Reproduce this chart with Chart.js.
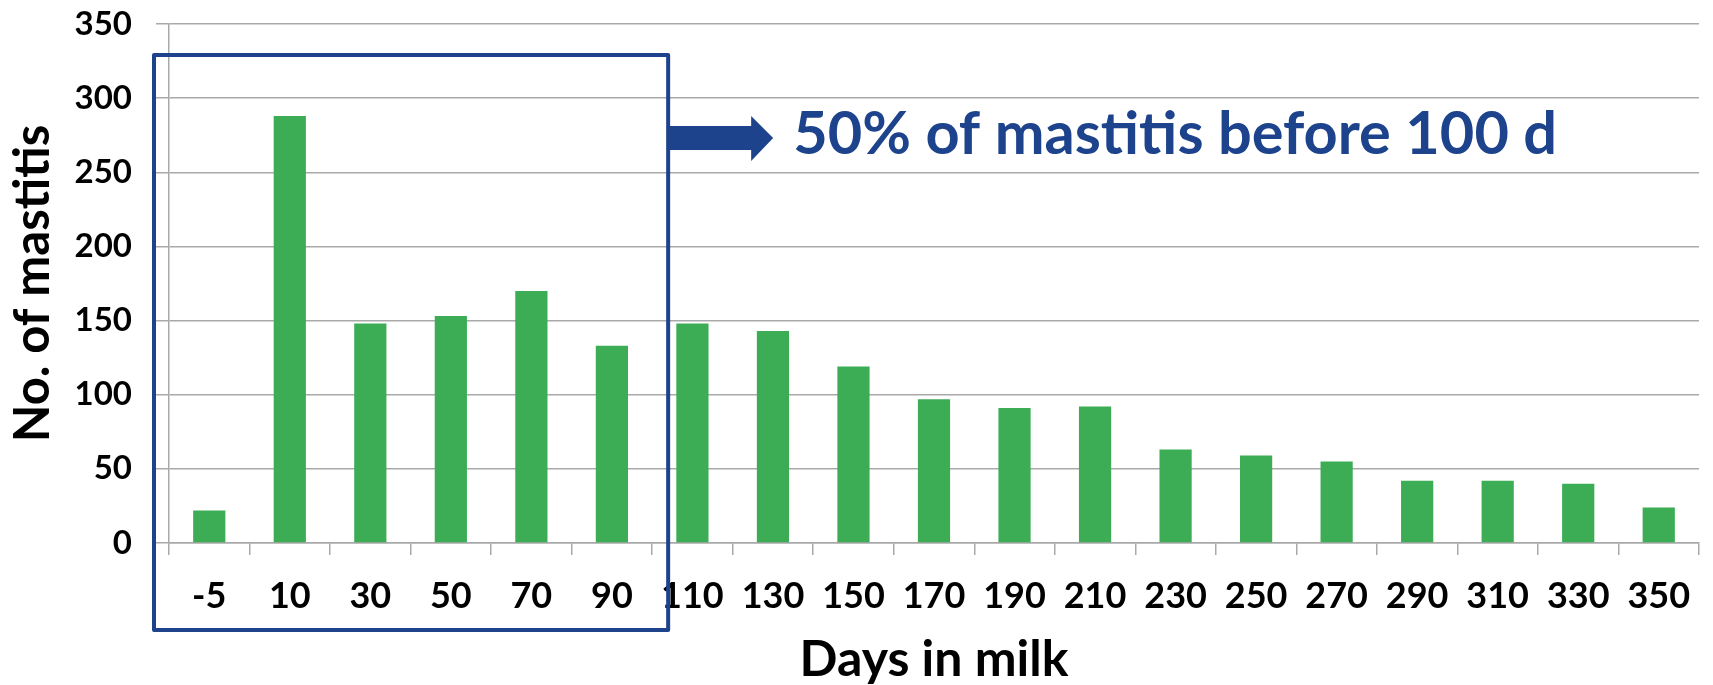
<!DOCTYPE html>
<html>
<head>
<meta charset="utf-8">
<title>Days in milk</title>
<script src="https://cdn.jsdelivr.net/npm/chart.js@4/dist/chart.umd.min.js"></script>
<style>
  body { margin: 0; background: #fff; }
  #myChart { display: block; }
</style>
</head>
<body>
<canvas id="myChart" width="1713" height="685"></canvas>
<script>
// days in milk (class midpoints) and mastitis counts
var days = ['-5', '10', '30', '50', '70', '90', '110', '130', '150', '170',
            '190', '210', '230', '250', '270', '290', '310', '330', '350'];
var mastitis = [22, 288, 148, 153, 170, 133, 148, 143, 119, 97,
                91, 92, 63, 59, 55, 42, 42, 40, 24];
var yTicks = [0, 50, 100, 150, 200, 250, 300, 350];
var note = '50% of mastitis before 100 d';

var gridGrey = '#a9a9a9';
var navy = '#1c438b';

// the framed first 100 days, the arrow and the note
var notePlugin = {
  id: 'note',
  afterDraw: function (chart) {
    var ctx = chart.ctx;
    var area = chart.chartArea;
    var x = chart.scales.x;
    var split = (x.getPixelForValue(5) + x.getPixelForValue(6)) / 2;

    var left = area.left - 15;
    var right = split + 16;
    var top = area.top + 31;
    var bottom = 630;

    ctx.save();
    ctx.strokeStyle = navy;
    ctx.lineWidth = 4;
    ctx.lineJoin = 'round';
    ctx.strokeRect(left, top, right - left, bottom - top);

    // arrow
    var ay = 138;
    ctx.fillStyle = navy;
    ctx.beginPath();
    ctx.moveTo(right, ay - 12);
    ctx.lineTo(right + 83, ay - 12);
    ctx.lineTo(right + 83, ay - 22);
    ctx.lineTo(right + 105, ay);
    ctx.lineTo(right + 83, ay + 23);
    ctx.lineTo(right + 83, ay + 12);
    ctx.lineTo(right, ay + 12);
    ctx.closePath();
    ctx.fill();

    ctx.font = 'bold 59.5px Lato';
    ctx.textAlign = 'left';
    ctx.textBaseline = 'alphabetic';
    ctx.fillText(note, right + 125, 154);
    ctx.restore();
  }
};

new Chart(document.getElementById('myChart'), {
  type: 'bar',
  data: {
    labels: days,
    datasets: [{
      label: 'No. of mastitis',
      data: mastitis,
      backgroundColor: '#3cad55',
      borderWidth: 0,
      barPercentage: 0.4,
      categoryPercentage: 1
    }]
  },
  options: {
    responsive: false,
    animation: false,
    devicePixelRatio: 1,
    layout: { padding: { top: 24, right: 14, left: 0, bottom: 0 } },
    plugins: {
      legend: { display: false },
      tooltip: { enabled: false }
    },
    scales: {
      x: {
        offset: true,
        grid: {
          offset: true,
          drawOnChartArea: false,
          drawTicks: true,
          tickLength: 12,
          color: gridGrey,
          lineWidth: 1.5
        },
        border: { color: gridGrey, width: 1.5 },
        ticks: {
          color: '#000',
          padding: 20,
          maxRotation: 0,
          autoSkip: false,
          font: { family: 'Lato', weight: 'bold', size: 36 }
        },
        title: {
          display: true,
          text: 'Days in milk',
          color: '#000',
          padding: { top: 0, bottom: 0 },
          font: { family: 'Lato', weight: 'bold', size: 50, lineHeight: 1 }
        },
        afterFit: function (scale) { scale.height = 142; }
      },
      y: {
        min: 0,
        max: 350,
        afterBuildTicks: function (scale) {
          scale.ticks = yTicks.map(function (v) { return { value: v }; });
        },
        grid: {
          color: gridGrey,
          lineWidth: 1.5,
          drawTicks: true,
          tickLength: 13
        },
        border: { color: gridGrey, width: 1.5 },
        ticks: {
          color: '#000',
          padding: 24,
          font: { family: 'Lato', weight: 'bold', size: 33 }
        },
        title: {
          display: true,
          text: 'No. of mastitis',
          color: '#000',
          padding: { top: 9, bottom: 0 },
          font: { family: 'Lato', weight: 'bold', size: 49, lineHeight: 1 }
        },
        afterFit: function (scale) {
          scale.width = 169;
          scale.paddingTop = 0;
          scale.paddingBottom = 0;
        }
      }
    }
  },
  plugins: [notePlugin]
});
</script>
</body>
</html>
